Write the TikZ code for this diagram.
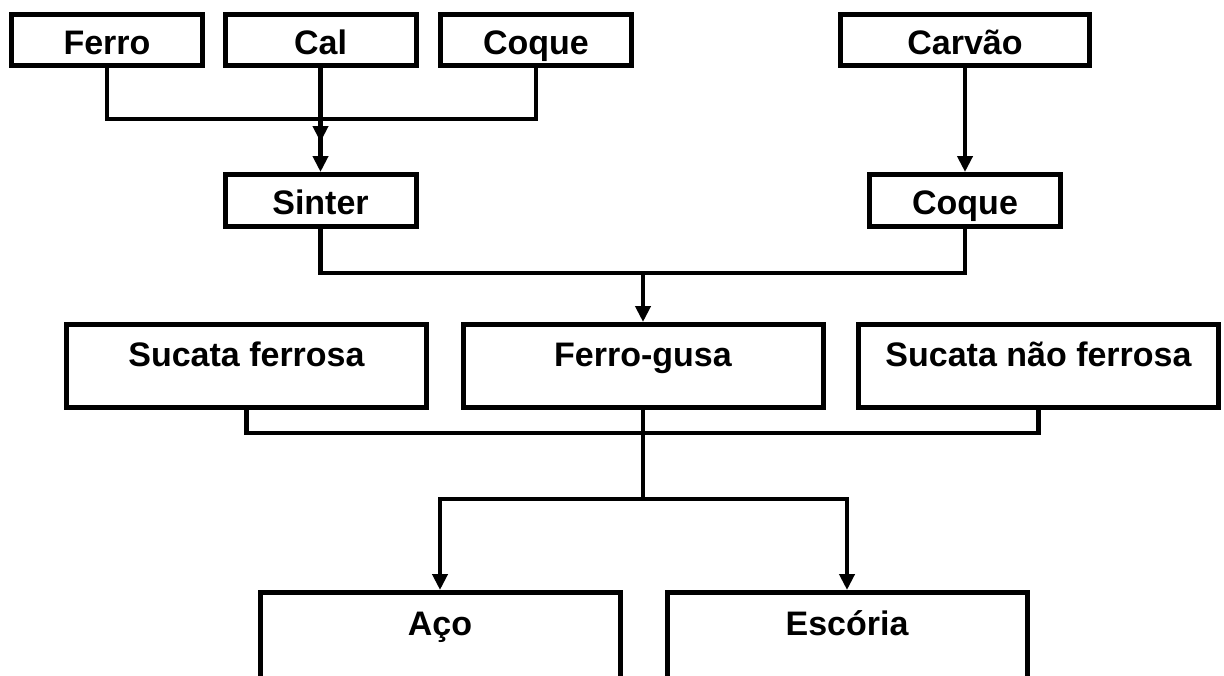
\documentclass[tikz,border=0pt]{standalone}
\usepackage{fontspec}
\setmainfont{Liberation Sans}
\usetikzlibrary{arrows.meta}

\tikzset{
	box/.style={rectangle, draw=black, line width=2.5pt, inner sep=0pt, font=\bfseries\fontsize{17}{20}\selectfont},
	smallbox/.style={box, minimum width=95.5pt, minimum height=25.5pt, text height=14pt, text depth=0pt},
	bigbox/.style={box, minimum width=180pt, minimum height=41.5pt, text height=12pt, text depth=12pt},
	outbox/.style={box, minimum width=180pt, minimum height=50pt, text height=12pt, text depth=19.5pt},
	link/.style={line width=2.4pt},
	flow/.style={link, -{Triangle[length=8pt, width=7.5pt]}}
}

\begin{document}
\begin{tikzpicture}[x=0.5pt, y=-0.5pt]
			\useasboundingbox (0,0) rectangle (1224,675);
			\clip (0,0) rectangle (1224,675);
			
			% Raw materials
			\foreach \name/\x/\txt in {ferro/107/Ferro, cal/320.5/Cal, coque/536/Coque} {
				\node[smallbox] (\name) at (\x,40) {\txt};
			}
			\node[smallbox, minimum width=124.5pt] (carvao) at (965,40) {Carvão};
			
			% Intermediate products
			\node[smallbox, minimum height=26pt] (sinter) at (320.5,200.5) {Sinter};
			\node[smallbox, minimum height=26pt] (coqueB) at (965,200.5) {Coque};
			
			% Charge
			\node[bigbox] (sucataF) at (246.5,366) {Sucata ferrosa};
			\node[bigbox] (gusa) at (643,366) {Ferro-gusa};
			\node[bigbox] (sucataNF) at (1038.5,366) {Sucata não ferrosa};
			
			% Output
			\node[outbox] (aco) at (440,642.5) {Aço};
			\node[outbox] (escoria) at (847,642.5) {Escória};
			
			% Junctions
			\coordinate (jTop) at (320.5,119);
			\coordinate (calTip) at (320.5,142);
			\coordinate (jMid) at (643,273);
			\coordinate (jLow) at (643,433);
			\coordinate (jSplit) at (643,499);
			
			% Connections
			\draw[link] (ferro.south) |- (jTop) -| (coque.south);
			\draw[flow] (cal.south) -- (calTip);
			\draw[flow] (jTop) -- (sinter.north);
			\draw[flow] (carvao.south) -- (coqueB.north);
			\draw[link] (sinter.south) |- (jMid) -| (coqueB.south);
			\draw[flow] (jMid) -- (gusa.north);
			\draw[link] (sucataF.south) |- (jLow) -| (sucataNF.south);
			\draw[link] (gusa.south) -- (jSplit);
			\foreach \out in {aco, escoria} {
				\draw[flow] (jSplit) -| (\out.north);
			}
		\end{tikzpicture}
\end{document}
